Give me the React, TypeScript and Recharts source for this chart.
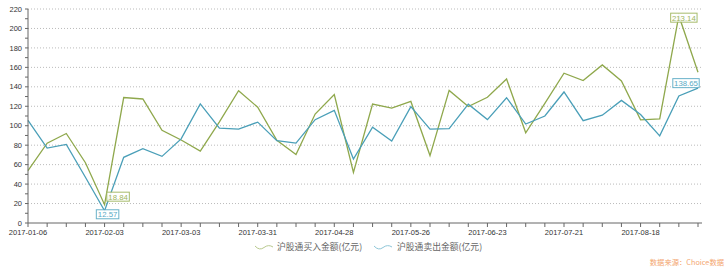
import { LineChart, Line, XAxis, YAxis, CartesianGrid, LabelList } from 'recharts'

const weeks = [
  '2017-01-06', '2017-01-13', '2017-01-20', '2017-01-27', '2017-02-03', '2017-02-10',
  '2017-02-17', '2017-02-24', '2017-03-03', '2017-03-10', '2017-03-17', '2017-03-24',
  '2017-03-31', '2017-04-07', '2017-04-14', '2017-04-21', '2017-04-28', '2017-05-05',
  '2017-05-12', '2017-05-19', '2017-05-26', '2017-06-02', '2017-06-09', '2017-06-16',
  '2017-06-23', '2017-06-30', '2017-07-07', '2017-07-14', '2017-07-21', '2017-07-28',
  '2017-08-04', '2017-08-11', '2017-08-18', '2017-08-25', '2017-09-01', '2017-09-08',
]

// 沪股通买入金额(亿元)
const buyAmounts = [
  53.8, 82, 92, 62, 18.84, 129, 127.5, 95.3, 85.3, 74, 104, 136,
  119, 85, 70.3, 112, 132, 52, 122.3, 118.2, 125, 69.3, 136.3, 119.7,
  129.2, 148, 92.7, 123, 154, 146.5, 162.5, 146, 106, 107, 213.14, 155,
]

// 沪股通卖出金额(亿元)
const sellAmounts = [
  105.5, 77, 80.8, 47, 12.57, 67.5, 76.4, 68.5, 86.5, 122.5, 97.6, 96.5,
  103.7, 84.6, 82.2, 106.2, 115.8, 65.8, 98.4, 84.3, 119.6, 96.5, 97, 122.2,
  106.3, 128.8, 101.7, 110, 134.7, 105.2, 110.8, 126, 111.5, 89.6, 130.6, 138.65,
]

const yTicks = [0, 10, 20, 30, 40, 50, 60, 70, 80, 90, 100, 110, 120, 130, 140, 150, 160, 170, 180, 190, 200, 210, 220]
const gridValues = [20, 40, 60, 80, 100, 120, 140, 160, 180, 200, 220]

const BUY = '#8fa84c'
const SELL = '#4a9fb8'
const FONT = "'Liberation Sans', Arial, sans-serif"
const CJK = "'Noto Sans CJK SC', sans-serif"

const data = weeks.map((week, i) => ({ week, buy: buyAmounts[i], sell: sellAmounts[i] }))

// min / max callouts, offsets of the box centre from the point
function extremeLabel(values: number[], color: string, minOff: [number, number], maxOff: [number, number]) {
  const min = Math.min(...values)
  const max = Math.max(...values)
  return (props: any) => {
    const { x, y, value } = props
    if (value !== min && value !== max) return null
    const [dx, dy] = value === min ? minOff : maxOff
    const text = String(value)
    const w = text.length * 3.9 + 3
    const h = 9
    const cx = x + dx
    const cy = y + dy
    return (
      <g>
        <rect x={cx - w / 2} y={cy - h / 2} width={w} height={h} fill="#fff" stroke={color} strokeWidth={1} opacity={0.9} />
        <text x={cx} y={cy + 3} textAnchor="middle" fontSize={7.8} fontFamily={FONT} fill={color}>{text}</text>
      </g>
    )
  }
}

function Wave({ color }: { color: string }) {
  return (
    <svg width={20} height={8} style={{ display: 'block' }}>
      <path d="M1 3 Q5.5 8 10 4.5 T19 4" fill="none" stroke={color} strokeWidth={1} />
    </svg>
  )
}

const legendText = { position: 'absolute' as const, top: 241, fontSize: 8.8, color: '#666', fontFamily: CJK, lineHeight: '12px', whiteSpace: 'nowrap' as const }

export default function App() {
  return (
    <div style={{ position: 'absolute', left: 0, top: 0, width: 726, height: 267, background: '#fff' }}>
      <LineChart width={726} height={267} data={data} margin={{ top: 9, right: 24, left: 0, bottom: 24 }}>
        <CartesianGrid horizontal vertical={false} horizontalValues={gridValues} stroke="#bbb" strokeDasharray="1 2" />
        <XAxis
          dataKey="week"
          scale="point"
          interval={0}
          height={20}
          padding={{ left: 0, right: 4 }}
          tickFormatter={(v: string, i: number) => (i % 4 === 0 ? v : '')}
          tick={{ fill: '#333', fontSize: 7.5, fontFamily: FONT }}
          tickSize={4}
          tickMargin={3}
          axisLine={{ stroke: '#666' }}
          tickLine={{ stroke: '#666' }}
        />
        <YAxis
          width={28}
          domain={[0, 220]}
          ticks={yTicks}
          interval={0}
          tickFormatter={(v: number) => (v % 20 === 0 ? String(v) : '')}
          tick={{ fill: '#333', fontSize: 7.5, fontFamily: FONT }}
          tickSize={3}
          tickMargin={3}
          axisLine={{ stroke: '#666' }}
          tickLine={{ stroke: '#666' }}
        />
        <Line type="linear" dataKey="buy" stroke={BUY} strokeWidth={1.3} dot={false} isAnimationActive={false}>
          <LabelList dataKey="buy" content={extremeLabel(buyAmounts, '#9db55c', [13.5, -8], [5, 2])} />
        </Line>
        <Line type="linear" dataKey="sell" stroke={SELL} strokeWidth={1.3} dot={false} isAnimationActive={false}>
          <LabelList dataKey="sell" content={extremeLabel(sellAmounts, '#5aaac4', [3, 3.5], [-12, -5])} />
        </Line>
      </LineChart>

      <div style={{ position: 'absolute', left: 254, top: 243 }}><Wave color="#b8c98e" /></div>
      <div style={{ ...legendText, left: 277 }}>沪股通买入金额(亿元)</div>
      <div style={{ position: 'absolute', left: 373, top: 243 }}><Wave color="#8ec6d8" /></div>
      <div style={{ ...legendText, left: 397 }}>沪股通卖出金额(亿元)</div>
      <div style={{ position: 'absolute', right: 2, top: 257, fontSize: 7.3, color: '#f3a56e', fontFamily: CJK, lineHeight: '10px', whiteSpace: 'nowrap' }}>
        数据来源：Choice数据
      </div>
    </div>
  )
}
